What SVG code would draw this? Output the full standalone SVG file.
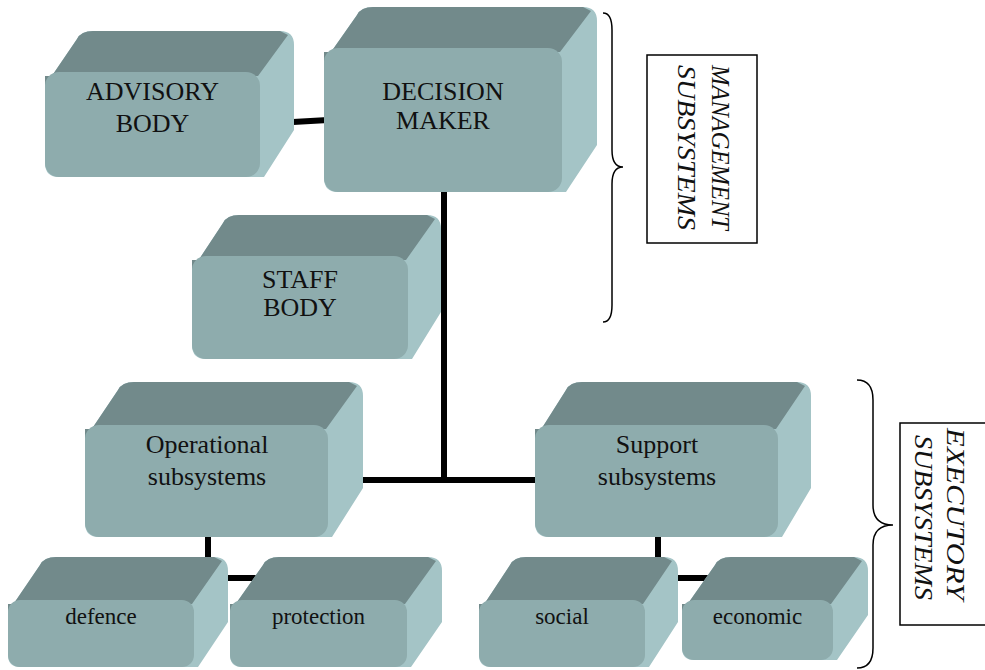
<svg xmlns="http://www.w3.org/2000/svg" width="985" height="670" viewBox="0 0 985 670">
<style>
.side{fill:#A4C4C6}
.top{fill:#728A8B}
.front{fill:#8EACAD}
.lbl{font-family:"Liberation Serif","Times New Roman",serif;font-size:26px;fill:#111;text-anchor:middle}
.sm{font-size:23px}
.conn{stroke:#000;stroke-width:6;fill:none}
.brace{stroke:#000;stroke-width:1.5;fill:none}
.vt{font-family:"Liberation Serif","Times New Roman",serif;font-style:italic;font-size:26px;fill:#111}
</style>
<rect width="985" height="670" fill="#fff"/>
<g id="connectors">
<line class="conn" x1="258" y1="124" x2="328" y2="120" stroke-width="7"/>
<line class="conn" x1="444" y1="190" x2="444" y2="483"/>
<line class="conn" x1="360" y1="480" x2="540" y2="480"/>
<path class="conn" d="M208,535 V578 H262"/>
<path class="conn" d="M658,535 V578 H708"/>
</g>
<g id="advisory">
<path class="side" d="M45,86 L77,39 Q81,31 93,31 L280,31 Q294,31 294,45 L294,130 L264,177 L59,177 Q45,177 45,163 Z"/>
<path class="top" d="M45,86 L77,39 Q81,31 93,31 L280,31 L288,35 L258,76 L45,76 Z"/>
<rect class="front" x="45" y="72" width="215" height="105" rx="14"/>
<text class="lbl" x="152.5" y="100">ADVISORY</text>
<text class="lbl" x="152.5" y="132">BODY</text>
</g>
<g id="decision">
<path class="side" d="M324,62 L357,15 Q361,7 373,7 L583,7 Q597,7 597,21 L597,145 L566,192 L338,192 Q324,192 324,178 Z"/>
<path class="top" d="M324,62 L357,15 Q361,7 373,7 L583,7 L591,11 L560,52 L324,52 Z"/>
<rect class="front" x="324" y="48" width="238" height="144" rx="14"/>
<text class="lbl" x="443" y="100">DECISION</text>
<text class="lbl" x="443" y="129">MAKER</text>
</g>
<g id="staff">
<path class="side" d="M192,270 L223,223 Q227,215 239,215 L427,215 Q441,215 441,229 L441,312 L412,359 L206,359 Q192,359 192,345 Z"/>
<path class="top" d="M192,270 L223,223 Q227,215 239,215 L427,215 L435,219 L406,260 L192,260 Z"/>
<rect class="front" x="192" y="256" width="216" height="103" rx="14"/>
<text class="lbl" x="300" y="288">STAFF</text>
<text class="lbl" x="300" y="316">BODY</text>
</g>
<g id="operational">
<path class="side" d="M85,439 L118,390 Q122,382 134,382 L349,382 Q363,382 363,396 L363,488 L332,537 L99,537 Q85,537 85,523 Z"/>
<path class="top" d="M85,439 L118,390 Q122,382 134,382 L349,382 L357,386 L326,429 L85,429 Z"/>
<rect class="front" x="85" y="425" width="243" height="112" rx="14"/>
<text class="lbl" x="207" y="453">Operational</text>
<text class="lbl" x="207" y="485">subsystems</text>
</g>
<g id="support">
<path class="side" d="M535,439 L566,390 Q570,382 582,382 L797,382 Q811,382 811,396 L811,488 L782,537 L549,537 Q535,537 535,523 Z"/>
<path class="top" d="M535,439 L566,390 Q570,382 582,382 L797,382 L805,386 L776,429 L535,429 Z"/>
<rect class="front" x="535" y="425" width="243" height="112" rx="14"/>
<text class="lbl" x="657" y="453">Support</text>
<text class="lbl" x="657" y="485">subsystems</text>
</g>
<g id="defence">
<path class="side" d="M8,612 L40,565 Q44,557 56,557 L214,557 Q228,557 228,571 L228,622 L198,667 L20,667 Q8,667 8,655 Z"/>
<path class="top" d="M8,612 L40,565 Q44,557 56,557 L214,557 L222,561 L192,604 L8,604 Z"/>
<rect class="front" x="8" y="600" width="186" height="67" rx="12"/>
<text class="lbl sm" x="101" y="624">defence</text>
</g>
<g id="protection">
<path class="side" d="M230,612 L263,565 Q267,557 279,557 L428,557 Q442,557 442,571 L442,622 L411,667 L242,667 Q230,667 230,655 Z"/>
<path class="top" d="M230,612 L263,565 Q267,557 279,557 L428,557 L436,561 L405,604 L230,604 Z"/>
<rect class="front" x="230" y="600" width="177" height="67" rx="12"/>
<text class="lbl sm" x="318.5" y="624">protection</text>
</g>
<g id="social">
<path class="side" d="M479,612 L510,565 Q514,557 526,557 L664,557 Q678,557 678,571 L678,622 L649,667 L491,667 Q479,667 479,655 Z"/>
<path class="top" d="M479,612 L510,565 Q514,557 526,557 L664,557 L672,561 L643,604 L479,604 Z"/>
<rect class="front" x="479" y="600" width="166" height="67" rx="12"/>
<text class="lbl sm" x="562" y="624">social</text>
</g>
<g id="economic">
<path class="side" d="M682,612 L715,565 Q719,557 731,557 L854,557 Q868,557 868,571 L868,615 L837,660 L694,660 Q682,660 682,648 Z"/>
<path class="top" d="M682,612 L715,565 Q719,557 731,557 L854,557 L862,561 L831,604 L682,604 Z"/>
<rect class="front" x="682" y="600" width="151" height="60" rx="12"/>
<text class="lbl sm" x="757.5" y="624">economic</text>
</g>
<g id="management-brace">
<path class="brace" d="M603,13 Q612,13 612,30 L612,150 Q612,167 623,167 Q612,167 612,184 L612,305 Q612,322 603,322"/>
</g>
<g id="management-label">
<rect x="647" y="55" width="110" height="188" fill="#fff" stroke="#000" stroke-width="1.5"/>
<text class="vt" transform="translate(712,65) rotate(90)" textLength="165" lengthAdjust="spacingAndGlyphs">MANAGEMENT</text>
<text class="vt" transform="translate(678,65) rotate(90)" textLength="165" lengthAdjust="spacingAndGlyphs">SUBSYSTEMS</text>
</g>
<g id="executory-brace">
<path class="brace" d="M857,380 Q873,380 873,400 L873,505 Q873,525 893,525 Q873,525 873,545 L873,648 Q873,668 857,668"/>
</g>
<g id="executory-label">
<rect x="900" y="423" width="100" height="202" fill="#fff" stroke="#000" stroke-width="1.5"/>
<text class="vt" transform="translate(947,428) rotate(90)" textLength="172" lengthAdjust="spacingAndGlyphs">EXECUTORY</text>
<text class="vt" transform="translate(915,435) rotate(90)" textLength="165" lengthAdjust="spacingAndGlyphs">SUBSYSTEMS</text>
</g>
</svg>
